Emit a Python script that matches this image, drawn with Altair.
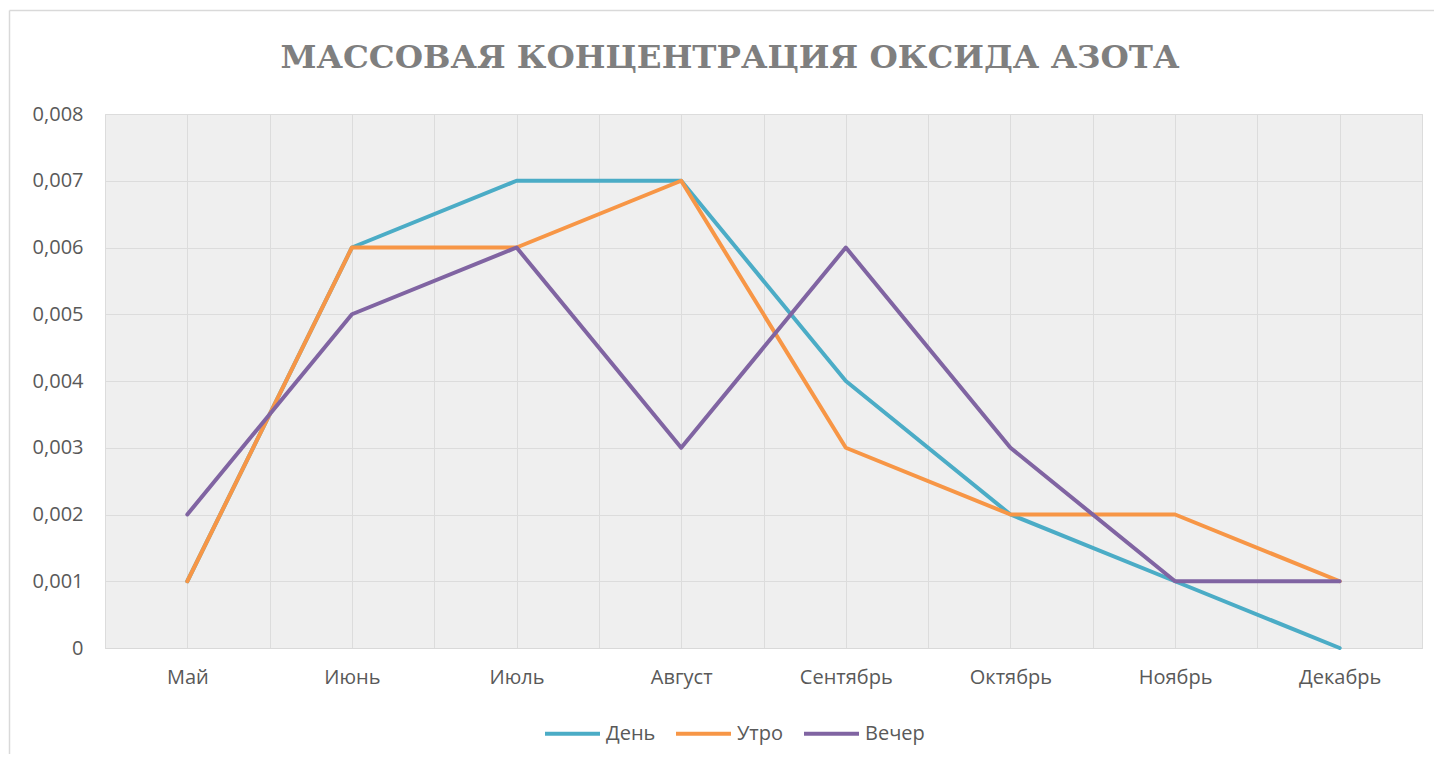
import altair as alt
import pandas as pd

months = ['Май', 'Июнь', 'Июль', 'Август', 'Сентябрь', 'Октябрь', 'Ноябрь', 'Декабрь']
den = [0.001, 0.006, 0.007, 0.007, 0.004, 0.002, 0.001, 0.0]
utro = [0.001, 0.006, 0.006, 0.007, 0.003, 0.002, 0.002, 0.001]
vecher = [0.002, 0.005, 0.006, 0.003, 0.006, 0.003, 0.001, 0.001]
series_names = ['День', 'Утро', 'Вечер']
series_colors = ['#4BACC6', '#F79646', '#8064A2']
y_ticks = [0, 0.001, 0.002, 0.003, 0.004, 0.005, 0.006, 0.007, 0.008]
title_text = 'МАССОВАЯ КОНЦЕНТРАЦИЯ ОКСИДА АЗОТА'

rows = []
for name, vals in zip(series_names, [den, utro, vecher]):
    for m, v in zip(months, vals):
        rows.append({'month': m, 'value': v, 'series': name})
df = pd.DataFrame(rows)

W, H = 1317, 534
FONT = 'Open Sans'

color_scale = alt.Scale(domain=series_names, range=series_colors)
y_enc = alt.Y('value:Q', scale=alt.Scale(domain=[0, 0.008]),
              axis=alt.Axis(values=y_ticks, grid=True, ticks=False, domain=False,
                            title=None, labelPadding=22,
                            labelExpr="datum.value == 0 ? '0' : replace(format(datum.value, '.3f'), '.', ',')"))
x_enc = alt.X('month:N', sort=months, scale=alt.Scale(type='point', padding=0.5),
              axis=alt.Axis(grid=True, ticks=False, title=None, labelPadding=19,
                            labelAngle=0, domainColor='#d9d9d9', orient='bottom'))

def line_for(name):
    return alt.Chart(df).transform_filter(alt.datum.series == name).mark_line(
        strokeWidth=4, strokeCap='round', strokeJoin='round'
    ).encode(
        x=x_enc, y=y_enc,
        color=alt.Color('series:N', scale=color_scale, sort=series_names,
                        legend=alt.Legend(title=None, orient='none', direction='horizontal',
                                          legendX=438, legendY=590, symbolType='stroke',
                                          symbolSize=3025, symbolStrokeWidth=4,
                                          labelFontSize=20, labelColor='#595959',
                                          labelFont=FONT, labelOffset=4,
                                          columnPadding=12, padding=0))
    )

lines = alt.layer(*[line_for(n) for n in series_names])

grid_bands = alt.Chart(df).mark_point(opacity=0).encode(
    x=alt.X('month:N', sort=months,
            scale=alt.Scale(type='band', paddingInner=0, paddingOuter=0),
            axis=alt.Axis(grid=True, tickBand='extent', labels=False, ticks=False,
                          domain=False, title=None, orient='top')),
    y=alt.Y('value:Q')
)

one = pd.DataFrame({'k': [0]})
frame_left = alt.Chart(one).mark_rule(color='#d9d9d9', strokeWidth=1.5).encode(
    x=alt.value(-95.5), y=alt.value(-103.5), y2=alt.value(680))
frame_top = alt.Chart(one).mark_rule(color='#d9d9d9', strokeWidth=1.5).encode(
    x=alt.value(-95.5), x2=alt.value(1360), y=alt.value(-103.5))
title = alt.Chart(one).mark_text(font='DejaVu Serif', fontSize=32.5, fontWeight='bold',
                                 color='#7f7f7f', align='center', baseline='alphabetic').encode(
    x=alt.value(625), y=alt.value(-46), text=alt.value(title_text))

chart = alt.layer(grid_bands, lines, frame_left, frame_top, title).resolve_scale(
    x='independent'
).properties(
    width=W, height=H,
    autosize=alt.AutoSizeParams(type='none'),
    padding={'left': 97, 'top': 106, 'right': 12, 'bottom': 106}
).configure_view(
    stroke='#d9d9d9', fill='#efefef'
).configure_axis(
    gridColor='#dcdcdc', gridWidth=1, labelFont=FONT, labelFontSize=20,
    labelColor='#595959'
)

chart.save('out.html', embed_options={'renderer': 'svg', 'actions': False})
